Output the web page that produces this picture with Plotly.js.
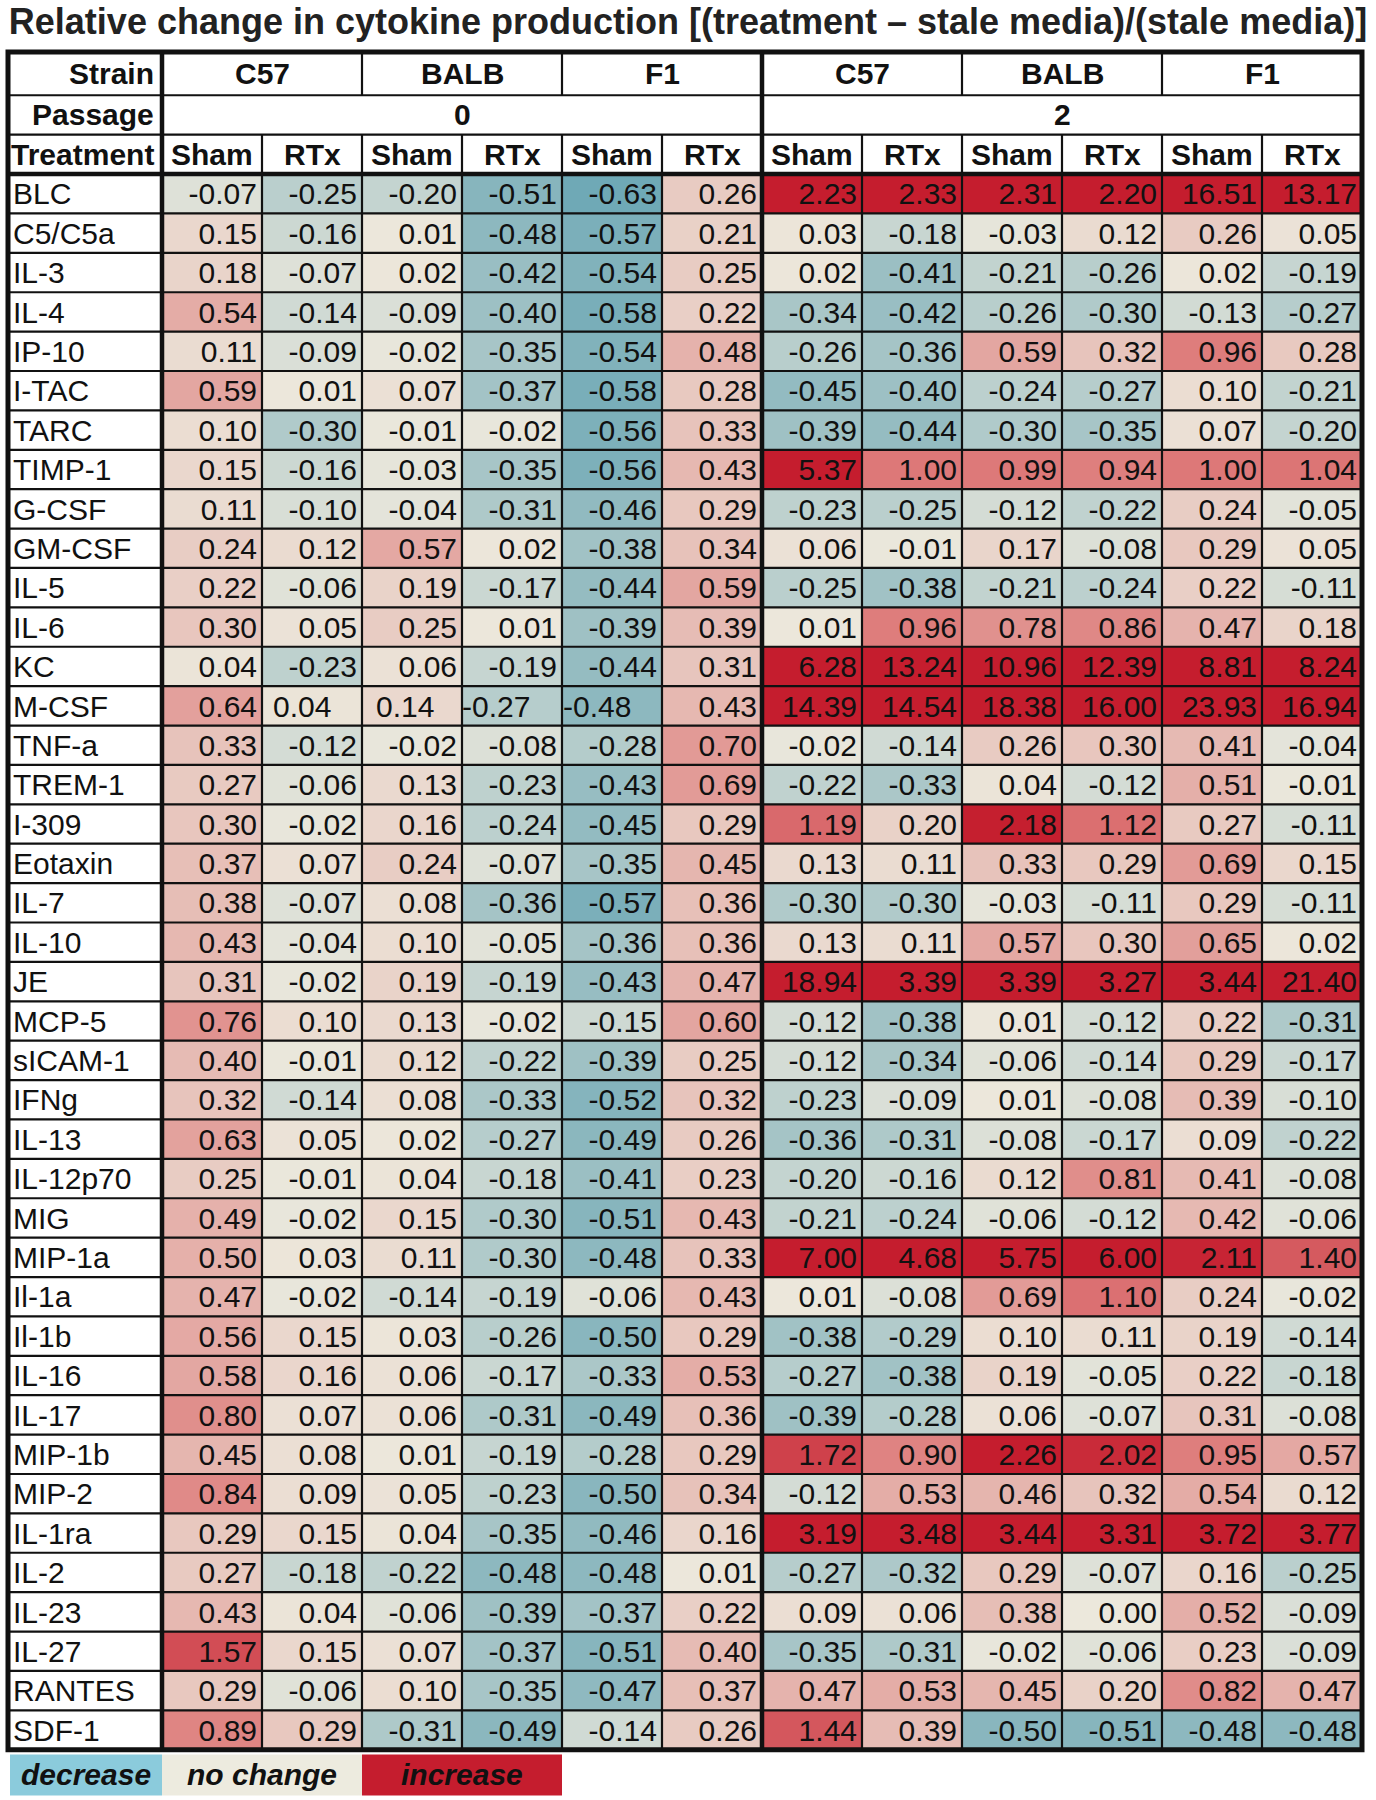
<!DOCTYPE html>
<html>
<head>
<meta charset="utf-8">
<script src="https://cdn.plot.ly/plotly-3.0.1.min.js"></script>
<style>
  html, body { margin: 0; padding: 0; background: #fff; }
  #chart { width: 1376px; height: 1800px; }
</style>
</head>
<body>
<div id="chart"></div>
<script>
const cytokines = [
  "BLC", "C5/C5a", "IL-3", "IL-4", "IP-10", "I-TAC", "TARC", "TIMP-1", "G-CSF", "GM-CSF",
  "IL-5", "IL-6", "KC", "M-CSF", "TNF-a", "TREM-1", "I-309", "Eotaxin", "IL-7", "IL-10",
  "JE", "MCP-5", "sICAM-1", "IFNg", "IL-13", "IL-12p70", "MIG", "MIP-1a", "Il-1a", "Il-1b",
  "IL-16", "IL-17", "MIP-1b", "MIP-2", "IL-1ra", "IL-2", "IL-23", "IL-27", "RANTES", "SDF-1"
];

const strains = ["C57", "BALB", "F1"];
const passages = ["0", "2"];
const treatments = ["Sham", "RTx"];
const legendLabels = ["decrease", "no change", "increase"];
const legendColors = ["#8bcbdc", "#edebdf", "#c51d2e"];

// passage 0: C57 Sham, C57 RTx, BALB Sham, BALB RTx, F1 Sham, F1 RTx
const p0Values = [
  [-0.07, -0.25, -0.20, -0.51, -0.63, 0.26],
  [0.15, -0.16, 0.01, -0.48, -0.57, 0.21],
  [0.18, -0.07, 0.02, -0.42, -0.54, 0.25],
  [0.54, -0.14, -0.09, -0.40, -0.58, 0.22],
  [0.11, -0.09, -0.02, -0.35, -0.54, 0.48],
  [0.59, 0.01, 0.07, -0.37, -0.58, 0.28],
  [0.10, -0.30, -0.01, -0.02, -0.56, 0.33],
  [0.15, -0.16, -0.03, -0.35, -0.56, 0.43],
  [0.11, -0.10, -0.04, -0.31, -0.46, 0.29],
  [0.24, 0.12, 0.57, 0.02, -0.38, 0.34],
  [0.22, -0.06, 0.19, -0.17, -0.44, 0.59],
  [0.30, 0.05, 0.25, 0.01, -0.39, 0.39],
  [0.04, -0.23, 0.06, -0.19, -0.44, 0.31],
  [0.64, 0.04, 0.14, -0.27, -0.48, 0.43],
  [0.33, -0.12, -0.02, -0.08, -0.28, 0.70],
  [0.27, -0.06, 0.13, -0.23, -0.43, 0.69],
  [0.30, -0.02, 0.16, -0.24, -0.45, 0.29],
  [0.37, 0.07, 0.24, -0.07, -0.35, 0.45],
  [0.38, -0.07, 0.08, -0.36, -0.57, 0.36],
  [0.43, -0.04, 0.10, -0.05, -0.36, 0.36],
  [0.31, -0.02, 0.19, -0.19, -0.43, 0.47],
  [0.76, 0.10, 0.13, -0.02, -0.15, 0.60],
  [0.40, -0.01, 0.12, -0.22, -0.39, 0.25],
  [0.32, -0.14, 0.08, -0.33, -0.52, 0.32],
  [0.63, 0.05, 0.02, -0.27, -0.49, 0.26],
  [0.25, -0.01, 0.04, -0.18, -0.41, 0.23],
  [0.49, -0.02, 0.15, -0.30, -0.51, 0.43],
  [0.50, 0.03, 0.11, -0.30, -0.48, 0.33],
  [0.47, -0.02, -0.14, -0.19, -0.06, 0.43],
  [0.56, 0.15, 0.03, -0.26, -0.50, 0.29],
  [0.58, 0.16, 0.06, -0.17, -0.33, 0.53],
  [0.80, 0.07, 0.06, -0.31, -0.49, 0.36],
  [0.45, 0.08, 0.01, -0.19, -0.28, 0.29],
  [0.84, 0.09, 0.05, -0.23, -0.50, 0.34],
  [0.29, 0.15, 0.04, -0.35, -0.46, 0.16],
  [0.27, -0.18, -0.22, -0.48, -0.48, 0.01],
  [0.43, 0.04, -0.06, -0.39, -0.37, 0.22],
  [1.57, 0.15, 0.07, -0.37, -0.51, 0.40],
  [0.29, -0.06, 0.10, -0.35, -0.47, 0.37],
  [0.89, 0.29, -0.31, -0.49, -0.14, 0.26]
];

// passage 2, same column order
const p2Values = [
  [2.23, 2.33, 2.31, 2.20, 16.51, 13.17],
  [0.03, -0.18, -0.03, 0.12, 0.26, 0.05],
  [0.02, -0.41, -0.21, -0.26, 0.02, -0.19],
  [-0.34, -0.42, -0.26, -0.30, -0.13, -0.27],
  [-0.26, -0.36, 0.59, 0.32, 0.96, 0.28],
  [-0.45, -0.40, -0.24, -0.27, 0.10, -0.21],
  [-0.39, -0.44, -0.30, -0.35, 0.07, -0.20],
  [5.37, 1.00, 0.99, 0.94, 1.00, 1.04],
  [-0.23, -0.25, -0.12, -0.22, 0.24, -0.05],
  [0.06, -0.01, 0.17, -0.08, 0.29, 0.05],
  [-0.25, -0.38, -0.21, -0.24, 0.22, -0.11],
  [0.01, 0.96, 0.78, 0.86, 0.47, 0.18],
  [6.28, 13.24, 10.96, 12.39, 8.81, 8.24],
  [14.39, 14.54, 18.38, 16.00, 23.93, 16.94],
  [-0.02, -0.14, 0.26, 0.30, 0.41, -0.04],
  [-0.22, -0.33, 0.04, -0.12, 0.51, -0.01],
  [1.19, 0.20, 2.18, 1.12, 0.27, -0.11],
  [0.13, 0.11, 0.33, 0.29, 0.69, 0.15],
  [-0.30, -0.30, -0.03, -0.11, 0.29, -0.11],
  [0.13, 0.11, 0.57, 0.30, 0.65, 0.02],
  [18.94, 3.39, 3.39, 3.27, 3.44, 21.40],
  [-0.12, -0.38, 0.01, -0.12, 0.22, -0.31],
  [-0.12, -0.34, -0.06, -0.14, 0.29, -0.17],
  [-0.23, -0.09, 0.01, -0.08, 0.39, -0.10],
  [-0.36, -0.31, -0.08, -0.17, 0.09, -0.22],
  [-0.20, -0.16, 0.12, 0.81, 0.41, -0.08],
  [-0.21, -0.24, -0.06, -0.12, 0.42, -0.06],
  [7.00, 4.68, 5.75, 6.00, 2.11, 1.40],
  [0.01, -0.08, 0.69, 1.10, 0.24, -0.02],
  [-0.38, -0.29, 0.10, 0.11, 0.19, -0.14],
  [-0.27, -0.38, 0.19, -0.05, 0.22, -0.18],
  [-0.39, -0.28, 0.06, -0.07, 0.31, -0.08],
  [1.72, 0.90, 2.26, 2.02, 0.95, 0.57],
  [-0.12, 0.53, 0.46, 0.32, 0.54, 0.12],
  [3.19, 3.48, 3.44, 3.31, 3.72, 3.77],
  [-0.27, -0.32, 0.29, -0.07, 0.16, -0.25],
  [0.09, 0.06, 0.38, 0.00, 0.52, -0.09],
  [-0.35, -0.31, -0.02, -0.06, 0.23, -0.09],
  [0.47, 0.53, 0.45, 0.20, 0.82, 0.47],
  [1.44, 0.39, -0.50, -0.51, -0.48, -0.48]
];

// in the source the M-CSF row has a few cells typed left-aligned
const leftAlignedRow = "M-CSF";
const leftAlignedCols = [1, 2, 3, 4];
const leftAlignedPad = [0.11, 0.14, 0.0, 0.01];

const FONT = "'Liberation Sans', Arial, Helvetica, sans-serif";
const NUM_SIZE = 30;
const TEXT_DROP = 0.08;   // nudge so digits sit in the middle of the cell
const LABEL_X0 = -2.04;   // left edge of the label column
const X_END = 11.5;
const Y_TOP = -3.6;       // top of the header block
const Y_END = 39.5;       // bottom of the last data row

const z = cytokines.map((_, i) => p0Values[i].concat(p2Values[i]));
const nCols = z[0].length;
const colIdx = z[0].map((_, j) => j);
const rowIdx = cytokines.map((_, i) => i);

const heat = {
  type: "heatmap",
  x: colIdx,
  y: rowIdx,
  z,
  zmin: -0.63,
  zmax: 2.2,
  colorscale: [
    [0, "#6fa9b6"],
    [0.2226, "#ece8dc"],
    [0.58, "#dd7777"],
    [1, "#c51d2e"]
  ],
  showscale: false,
  hoverinfo: "skip"
};

// cell numbers, right aligned like the spreadsheet
const tx = [], ty = [], tt = [], tpos = [];
z.forEach((row, i) => {
  row.forEach((v, j) => {
    const k = leftAlignedCols.indexOf(j);
    if (cytokines[i] === leftAlignedRow && k >= 0) {
      tx.push(j - 0.5 + leftAlignedPad[k]);
      tpos.push("middle right");
    } else {
      tx.push(j + 0.45);
      tpos.push("middle left");
    }
    ty.push(i + TEXT_DROP);
    tt.push(v.toFixed(2));
  });
});

const cellText = {
  type: "scatter",
  mode: "text",
  x: tx,
  y: ty,
  text: tt,
  textposition: tpos,
  textfont: { family: FONT, size: NUM_SIZE, color: "#111" },
  hoverinfo: "skip",
  cliponaxis: false,
  showlegend: false
};

const rowLabels = {
  type: "scatter",
  mode: "text",
  x: cytokines.map(() => LABEL_X0 + 0.05),
  y: rowIdx.map((i) => i + TEXT_DROP),
  text: cytokines,
  textposition: "middle right",
  textfont: { family: FONT, size: NUM_SIZE, color: "#111" },
  hoverinfo: "skip",
  cliponaxis: false,
  showlegend: false
};

// header rows
const headFont = { family: FONT, size: 30, color: "#111" };
const annotations = [];
function headText(text, x, y, xanchor) {
  annotations.push({
    text: `<b>${text}</b>`, x, y, xref: "x", yref: "y",
    xanchor: xanchor || "center", yanchor: "middle",
    showarrow: false, font: headFont
  });
}
headText("Strain", -0.56, -3.05, "right");
headText("Passage", -0.56, -2.0, "right");
headText("Treatment", -0.56, -1.0, "right");
passages.forEach((p, pi) => {
  headText(p, pi * 6 + 2.5, -2.0);
  strains.forEach((s, si) => {
    headText(s, pi * 6 + si * 2 + 0.5, -3.05);
    treatments.forEach((t, ti) => {
      headText(t, pi * 6 + si * 2 + ti, -1.0);
    });
  });
});

// legend strip under the table
const legendEdges = [LABEL_X0 + 0.02, -0.5, 1.5, 3.5];
const shapes = [];
legendLabels.forEach((lab, i) => {
  shapes.push({
    type: "rect", xref: "x", yref: "y",
    x0: legendEdges[i], x1: legendEdges[i + 1], y0: 39.62, y1: 40.66,
    fillcolor: legendColors[i], line: { width: 0 }
  });
  annotations.push({
    text: `<b><i>${lab}</i></b>`,
    x: (legendEdges[i] + legendEdges[i + 1]) / 2, y: 40.14,
    xref: "x", yref: "y", showarrow: false,
    font: { family: FONT, size: 30, color: "#111" }
  });
});

// grid lines
function line(x0, y0, x1, y1, w) {
  shapes.push({
    type: "line", xref: "x", yref: "y", x0, y0, x1, y1,
    line: { color: "#111", width: w }
  });
}
const THIN = 2.2;
const THICK = 4.5;
for (let j = 0; j < nCols - 1; j++) {
  const xb = j + 0.5;
  if (xb === 5.5) continue;
  line(xb, -1.5, xb, Y_END, THIN);
  if (j % 2 === 1) line(xb, Y_TOP, xb, -2.5, THIN);
}
for (let i = 0; i < cytokines.length - 1; i++) {
  line(LABEL_X0, i + 0.5, X_END, i + 0.5, THIN);
}
line(LABEL_X0, -2.5, X_END, -2.5, THIN);
line(LABEL_X0, -1.5, X_END, -1.5, THIN);
line(LABEL_X0, -0.5, X_END, -0.5, THICK);
line(-0.5, Y_TOP, -0.5, Y_END, THICK);
line(5.5, Y_TOP, 5.5, Y_END, THICK);
shapes.push({
  type: "rect", xref: "x", yref: "y",
  x0: LABEL_X0, x1: X_END, y0: Y_TOP, y1: Y_END,
  line: { color: "#111", width: 5 }
});

const layout = {
  width: 1376,
  height: 1800,
  margin: { l: 2, r: 8, t: 48, b: 3 },
  paper_bgcolor: "#ffffff",
  plot_bgcolor: "#ffffff",
  title: {
    text: "<b>Relative change in cytokine production [(treatment – stale media)/(stale media)]</b>",
    font: { family: FONT, size: 36, color: "#222" },
    x: 0.5, xref: "container", xanchor: "center",
    y: 1 - 21 / 1800, yref: "container", yanchor: "middle"
  },
  xaxis: {
    range: [-2.1, 11.56], visible: false, showgrid: false, zeroline: false, fixedrange: true
  },
  yaxis: {
    range: [40.7, -3.7], visible: false, showgrid: false, zeroline: false, fixedrange: true
  },
  shapes,
  annotations,
  showlegend: false
};

Plotly.newPlot("chart", [heat, cellText, rowLabels], layout, { staticPlot: true });
</script>
</body>
</html>
